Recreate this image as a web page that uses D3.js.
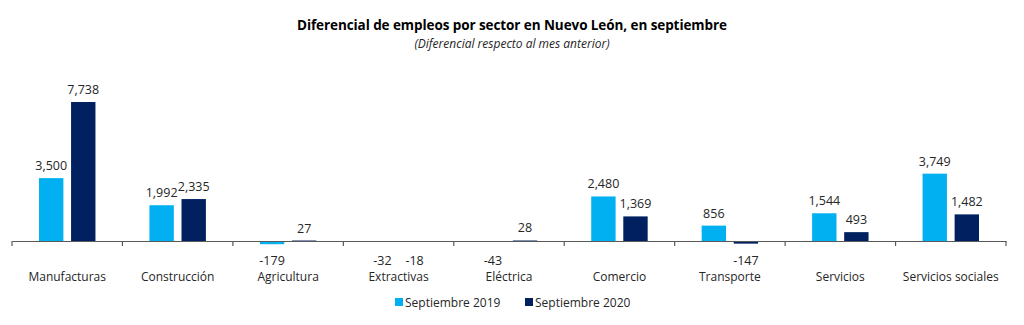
<!DOCTYPE html>
<html>
<head>
<meta charset="utf-8">
<script src="https://cdn.jsdelivr.net/npm/d3@7"></script>
<style>
  body { margin: 0; background: #fff; }
  svg { display: block; font-family: "Open Sans", "Noto Sans", sans-serif; }
</style>
</head>
<body>
<div id="chart"></div>
<script>
"use strict";

var sectors = ["Manufacturas", "Construcción", "Agricultura", "Extractivas", "Eléctrica",
  "Comercio", "Transporte", "Servicios", "Servicios sociales"];
var sept2019 = [3500, 1992, -179, -32, -43, 2480, 856, 1544, 3749];
var sept2020 = [7738, 2335, 27, -18, 28, 1369, -147, 493, 1482];
var seriesNames = ["Septiembre 2019", "Septiembre 2020"];
var colors = ["#00b0f0", "#002060"];

var width = 1024, height = 325;
var zeroY = 241;
var fmt = d3.formatLocale({ decimal: ".", thousands: ",", grouping: [3], currency: ["$", ""], minus: "-" }).format(",");

var svg = d3.select("#chart").append("svg")
  .attr("width", width).attr("height", height);

svg.append("text").attr("x", 512).attr("y", 30)
  .attr("text-anchor", "middle").attr("font-size", 13.5).attr("font-weight", "bold")
  .attr("fill", "#000").attr("textLength", 430)
  .text("Diferencial de empleos por sector en Nuevo León, en septiembre");

svg.append("text").attr("x", 512).attr("y", 48)
  .attr("text-anchor", "middle").attr("font-size", 12).attr("font-style", "italic")
  .attr("fill", "#262626")
  .text("(Diferencial respecto al mes anterior)");

var x = d3.scaleBand().domain(sectors).range([12, 1006]);
var x1 = d3.scaleBand().domain([0, 1]).range([27, x.bandwidth() - 27]).paddingInner(0.24);

var y = d3.scaleLinear().domain([0, 7738]).range([zeroY, 102]);

var data = sectors.map(function (s, i) {
  return { sector: s, values: [sept2019[i], sept2020[i]] };
});

var groups = svg.selectAll("g.grp").data(data).enter().append("g")
  .attr("class", "grp")
  .attr("transform", function (d) { return "translate(" + x(d.sector) + ",0)"; });

groups.selectAll("rect").data(function (d) { return d.values; }).enter().append("rect")
  .attr("x", function (d, j) { return x1(j); })
  .attr("width", x1.bandwidth())
  .attr("y", function (d) { return Math.min(y(d), y(0)); })
  .attr("height", function (d) { return Math.abs(y(d) - y(0)); })
  .attr("fill", function (d, j) { return colors[j]; });

groups.selectAll("text.val").data(function (d) { return d.values; }).enter().append("text")
  .attr("class", "val")
  .attr("x", function (d, j) { return x1(j) + x1.bandwidth() / 2; })
  .attr("y", function (d) { return d >= 0 ? y(d) - 8 : y(0) + 24; })
  .attr("text-anchor", "middle").attr("font-size", 12.5).attr("fill", "#262626")
  .text(function (d) { return fmt(d); });

// axis with ticks between categories
var axis = d3.axisBottom(x).tickSize(0).tickPadding(31);
var ax = svg.append("g").attr("transform", "translate(0," + zeroY + ")").call(axis);
ax.select(".domain").attr("stroke", "#595959").attr("stroke-width", 1.2);
ax.selectAll(".tick text").attr("font-size", 12).attr("fill", "#262626")
  .attr("font-family", "'Open Sans', sans-serif");

var edges = sectors.map(function (s) { return x(s); }).concat([x.range()[1]]);
svg.append("g").selectAll("line").data(edges).enter().append("line")
  .attr("x1", function (d) { return d; }).attr("x2", function (d) { return d; })
  .attr("y1", zeroY).attr("y2", zeroY + 5)
  .attr("stroke", "#595959").attr("stroke-width", 1.2);

// legend
var legendX = [395, 525];
var leg = svg.append("g").selectAll("g").data(seriesNames).enter().append("g")
  .attr("transform", function (d, i) { return "translate(" + legendX[i] + ",298)"; });
leg.append("rect").attr("width", 8).attr("height", 8)
  .attr("fill", function (d, i) { return colors[i]; });
leg.append("text").attr("x", 10).attr("y", 8.5).attr("font-size", 12).attr("fill", "#262626")
  .text(function (d) { return d; });
</script>
</body>
</html>
